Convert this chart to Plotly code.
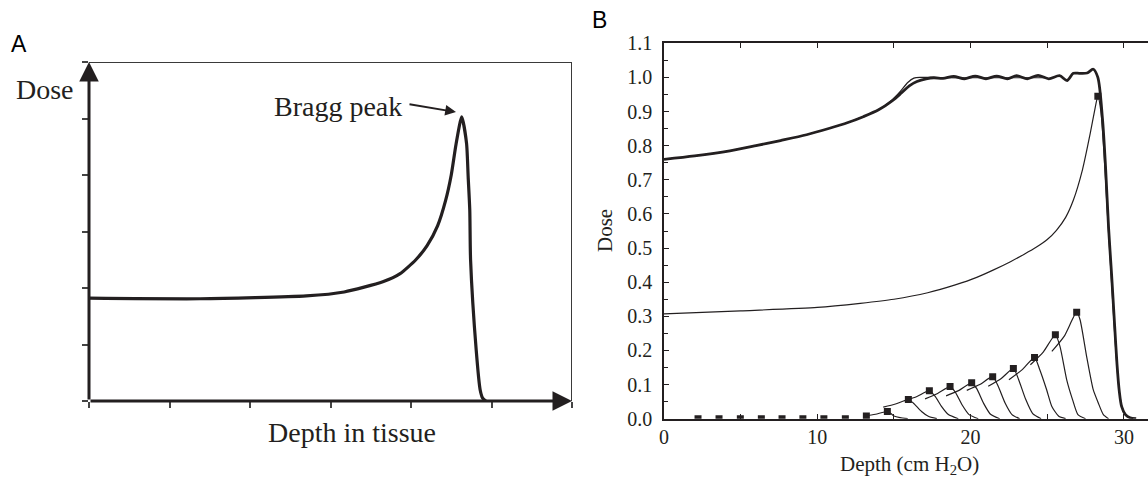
import plotly.graph_objects as go

W, H = 1148, 477
INK = "#231f20"
SERIF = "Liberation Serif, Times New Roman, serif"
SANS = "Liberation Sans, Arial, sans-serif"

# ---------------- Panel A (schematic, arbitrary units) ----------------
a_depth = [0, 1.38, 2.70, 3.17, 3.65, 3.86, 4.06, 4.20, 4.33, 4.43, 4.50, 4.56, 4.63,
           4.69, 4.71, 4.73, 4.74, 4.81, 4.86, 4.89, 4.93]
a_dose = [1.82, 1.81, 1.86, 1.93, 2.11, 2.25, 2.50, 2.75, 3.10, 3.55, 4.00, 4.55, 5.03,
          4.56, 3.97, 3.38, 2.50, 0.90, 0.19, 0.05, 0.0]

# ---------------- Panel B ----------------
sobp_x = [0, 2, 4.3, 6, 7.6, 9.3, 10.8, 12, 13, 14.0, 14.9, 15.5, 16.0, 16.5, 17.1, 17.6,
          18.2, 18.9, 19.6, 20.3, 21.0, 21.7, 22.4, 23.0, 23.7, 24.4, 25.1, 25.8, 26.3,
          26.7, 27.1, 27.6, 28.0, 28.3, 28.6, 28.8, 29.0, 29.2, 29.4, 29.55, 29.7, 29.85,
          30.1, 30.4, 30.8]
sobp_y = [0.760, 0.770, 0.785, 0.800, 0.815, 0.832, 0.851, 0.868, 0.885, 0.905, 0.932,
          0.955, 0.975, 0.988, 0.996, 0.999,
          0.997, 1.003, 0.996, 1.004, 0.996, 1.004, 0.996, 1.005, 0.996, 1.006, 0.996,
          1.005, 0.991, 1.012, 1.012, 1.013, 1.024, 1.000, 0.880, 0.740, 0.560, 0.420,
          0.270, 0.160, 0.080, 0.036, 0.012, 0.003, 0.0]

sobp2_x = [0, 2, 4.3, 6, 7.6, 9.3, 10.8, 12, 13, 14.0, 14.9, 15.4, 15.9, 16.3, 16.8,
           17.4, 18.5, 20, 22, 24, 25]
sobp2_y = [0.760, 0.770, 0.785, 0.800, 0.815, 0.832, 0.851, 0.868, 0.885, 0.905, 0.935,
           0.958, 0.985, 0.998, 1.000, 1.000, 0.999, 0.999, 0.999, 0.999, 0.999]

pristine_x = [0, 5, 10, 12.8, 15, 17.2, 19, 20.4, 21.5, 22.6, 23.5, 24.3, 25.0, 25.6,
              26.2, 26.7, 27.3, 27.8, 28.1, 28.3, 28.5, 28.7, 28.9, 29.1, 29.3, 29.5,
              29.7, 29.9, 30.2, 30.6]
pristine_y = [0.307, 0.316, 0.326, 0.338, 0.350, 0.369, 0.392, 0.414, 0.436, 0.460,
              0.482, 0.503, 0.525, 0.552, 0.590, 0.640, 0.730, 0.835, 0.905, 0.945,
              0.900, 0.780, 0.620, 0.470, 0.320, 0.180, 0.080, 0.030, 0.008, 0.0]

# weighted pristine peaks (depth lists / dose lists, one per peak)
peaks_x = [
    [13.0, 13.8, 14.57, 14.8, 15.0, 15.4, 15.9],
    [14.3, 15.1, 15.94, 16.26, 16.8, 17.24, 17.8],
    [15.7, 16.5, 17.31, 17.68, 18.1, 18.55, 19.2],
    [17.03, 17.85, 18.66, 19.0, 19.45, 19.9, 20.5],
    [18.4, 19.25, 20.07, 20.4, 20.85, 21.3, 21.9],
    [19.75, 20.6, 21.44, 21.8, 22.25, 22.7, 23.2],
    [21.15, 22.0, 22.79, 23.13, 23.6, 24.05, 24.6],
    [22.5, 23.35, 24.17, 24.5, 24.96, 25.3, 25.75, 26.2],
    [23.9, 24.75, 25.53, 25.83, 26.27, 26.65, 27.0, 27.5],
    [25.3, 26.1, 26.92, 27.14, 27.57, 28.0, 28.33, 28.66, 29.0],
]
peaks_y = [
    [0.007, 0.013, 0.021, 0.015, 0.008, 0.003, 0.0],
    [0.034, 0.043, 0.056, 0.046, 0.021, 0.007, 0.0],
    [0.052, 0.065, 0.082, 0.066, 0.036, 0.012, 0.0],
    [0.058, 0.074, 0.094, 0.078, 0.040, 0.012, 0.0],
    [0.067, 0.083, 0.105, 0.088, 0.045, 0.013, 0.0],
    [0.083, 0.100, 0.123, 0.095, 0.046, 0.012, 0.0],
    [0.095, 0.118, 0.147, 0.115, 0.056, 0.015, 0.0],
    [0.114, 0.143, 0.179, 0.145, 0.085, 0.036, 0.007, 0.0],
    [0.158, 0.196, 0.246, 0.212, 0.114, 0.056, 0.012, 0.0],
    [0.197, 0.241, 0.312, 0.290, 0.182, 0.085, 0.046, 0.012, 0.0],
]

marker_x = [2.22, 3.59, 4.98, 6.35, 7.70, 9.06, 10.43, 11.83, 13.2, 14.57, 15.94, 17.31,
            18.66, 20.07, 21.44, 22.79, 24.17, 25.53, 26.92, 28.3]
marker_y = [0.0, 0.0, 0.0, 0.0, 0.0, 0.0, 0.0, 0.0, 0.008, 0.021, 0.056, 0.082,
            0.094, 0.105, 0.123, 0.147, 0.179, 0.246, 0.312, 0.945]

x_ticks_b = [0, 10, 20, 30]

fig = go.Figure()

# Panel A curve
fig.add_trace(go.Scatter(x=a_depth, y=a_dose, mode="lines", xaxis="x", yaxis="y",
                         line=dict(color=INK, width=3.2, shape="spline", smoothing=0.6),
                         showlegend=False, hoverinfo="skip"))

# Panel B curves
fig.add_trace(go.Scatter(x=pristine_x, y=pristine_y, mode="lines", xaxis="x2", yaxis="y2",
                         line=dict(color=INK, width=1.2, shape="spline", smoothing=0.6),
                         showlegend=False))
for px_, py_ in zip(peaks_x, peaks_y):
    fig.add_trace(go.Scatter(x=px_, y=py_, mode="lines", xaxis="x2", yaxis="y2",
                             line=dict(color=INK, width=1.2, shape="spline", smoothing=0.6),
                             showlegend=False))
fig.add_trace(go.Scatter(x=sobp2_x, y=sobp2_y, mode="lines", xaxis="x2", yaxis="y2",
                         line=dict(color=INK, width=1.2, shape="spline", smoothing=0.8),
                         showlegend=False))
fig.add_trace(go.Scatter(x=sobp_x, y=sobp_y, mode="lines", xaxis="x2", yaxis="y2",
                         line=dict(color=INK, width=2.8, shape="spline", smoothing=0.8),
                         showlegend=False))
fig.add_trace(go.Scatter(x=marker_x, y=marker_y, mode="markers", xaxis="x2", yaxis="y2",
                         marker=dict(symbol="square", size=7, color=INK, line=dict(width=0)),
                         showlegend=False))
# invisible trace to activate the top axis
fig.add_trace(go.Scatter(x=[0], y=[0], mode="markers", xaxis="x3", yaxis="y2",
                         marker=dict(opacity=0), showlegend=False, hoverinfo="skip"))

ax_a_x0, ax_a_x1 = 89 / W, 572 / W
ax_a_y0, ax_a_y1 = 1 - 401 / H, 1 - 62 / H
bx0, bx1 = 664 / W, 1.0
by0, by1 = 1 - 418.7 / H, 1 - 43.3 / H
b_xmax = (W - 664) / 15.33

tickfont = dict(family=SERIF, size=20, color=INK)

fig.update_layout(
    template="none",
    width=W, height=H, margin=dict(l=0, r=0, t=0, b=0, autoexpand=False),
    paper_bgcolor="white", plot_bgcolor="white", showlegend=False,
    xaxis=dict(domain=[ax_a_x0, ax_a_x1], range=[0, 6], showgrid=False, zeroline=False,
               showline=False, ticks="outside", ticklen=6, tickwidth=2, tickcolor="#444",
               dtick=1, tick0=0, showticklabels=False, anchor="y", automargin=False),
    yaxis=dict(domain=[ax_a_y0, ax_a_y1], range=[0, 6], showgrid=False, zeroline=False,
               showline=False, ticks="outside", ticklen=6, tickwidth=2, tickcolor="#444",
               dtick=1, tick0=0, showticklabels=False, anchor="x", automargin=False),
    xaxis2=dict(domain=[bx0, bx1], range=[0, b_xmax], showgrid=False, zeroline=False,
                showline=True, linecolor=INK, linewidth=1.5, ticks="inside", ticklen=5,
                tickwidth=1.2, tickcolor=INK, tickvals=x_ticks_b, tickfont=tickfont,
                minor=dict(ticks="inside", dtick=5, ticklen=5, tickwidth=1.2, tickcolor=INK),
                anchor="y2", automargin=False),
    xaxis3=dict(domain=[bx0, bx1], range=[0, b_xmax], overlaying="x2", side="top",
                anchor="y2", showgrid=False, zeroline=False, showline=True, linecolor=INK,
                linewidth=1.5, ticks="inside", ticklen=5, tickwidth=1.2, tickcolor=INK,
                dtick=5, tick0=0, showticklabels=False, automargin=False),
    yaxis2=dict(domain=[by0, by1], range=[0, 1.1], showgrid=False, zeroline=False,
                showline=True, linecolor=INK, linewidth=1.5, ticks="inside", ticklen=5,
                tickwidth=1.2, tickcolor=INK, dtick=0.1, tick0=0, tickformat=".1f",
                tickfont=tickfont, ticklabelstandoff=6,
                minor=dict(ticks="inside", dtick=0.05, ticklen=4, tickwidth=1.2,
                           tickcolor=INK),
                anchor="x2", automargin=False),
)

# Panel A frame (top and right)
fig.add_shape(type="line", xref="x", yref="y", x0=0, y0=6, x1=6, y1=6,
              line=dict(color="#3a3a3a", width=2))
fig.add_shape(type="line", xref="x", yref="y", x0=6, y0=0, x1=6, y1=6,
              line=dict(color="#3a3a3a", width=2))

# Panel A axis arrows
fig.add_annotation(x=6, y=0, ax=0, ay=0, xref="x", yref="y", axref="x", ayref="y",
                   text="", showarrow=True, arrowhead=2, arrowsize=1.3, arrowwidth=3,
                   arrowcolor=INK, standoff=0, startstandoff=0)
fig.add_annotation(x=0, y=6, ax=0, ay=0, xref="x", yref="y", axref="x", ayref="y",
                   text="", showarrow=True, arrowhead=2, arrowsize=1.3, arrowwidth=3,
                   arrowcolor=INK, standoff=0, startstandoff=0)

# Bragg peak label + arrow
fig.add_annotation(x=(404 - 89) / 80.5, y=(401 - 106) / 56.5, xref="x", yref="y",
                   text="Bragg peak", showarrow=False, xanchor="right", yanchor="middle",
                   font=dict(family=SERIF, size=28, color=INK))
fig.add_annotation(x=(456 - 89) / 80.5, y=(401 - 112) / 56.5,
                   ax=(408 - 89) / 80.5, ay=(401 - 104) / 56.5,
                   xref="x", yref="y", axref="x", ayref="y", text="", showarrow=True,
                   arrowhead=2, arrowsize=1.2, arrowwidth=1.8, arrowcolor=INK,
                   standoff=0, startstandoff=0)


def label(x, y, text, size, family=SERIF, color=INK, angle=0):
    fig.add_annotation(x=x / W, y=1 - y / H, xref="paper", yref="paper", text=text,
                       showarrow=False, xanchor="center", yanchor="middle",
                       textangle=angle, font=dict(family=family, size=size, color=color))


# Panel A titles
label(45, 90, "Dose", 28)
label(352, 432, "Depth in tissue", 28)
# Panel B titles
label(605, 230, "Dose", 21, angle=-90)
label(909, 465, "Depth (cm H<sub>2</sub>O)", 21)
# Panel letters
label(19, 44, "A", 23, family=SANS, color="black")
label(599, 20, "B", 23, family=SANS, color="black")

fig.write_html("out.html")
